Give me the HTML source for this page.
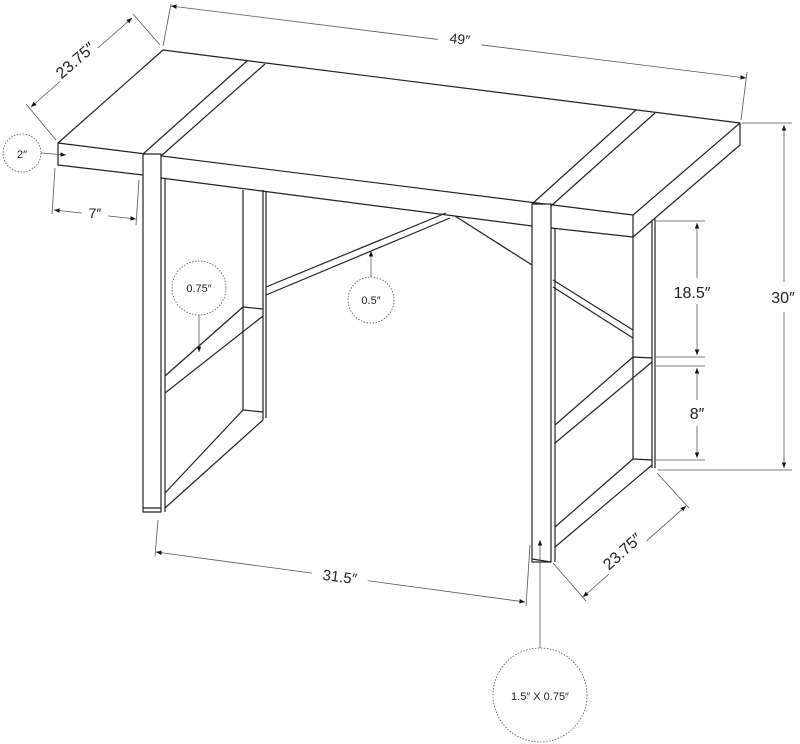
<!DOCTYPE html>
<html><head><meta charset="utf-8"><style>
html,body{margin:0;padding:0;background:#fff;width:800px;height:744px;overflow:hidden}
svg{display:block}
text{font-family:"Liberation Sans",sans-serif;fill:#222}
</style></head><body>
<svg width="800" height="744" viewBox="0 0 800 744" xmlns="http://www.w3.org/2000/svg">
<defs>
<marker id="a" viewBox="0 0 10 10" refX="10" refY="5" markerWidth="7" markerHeight="7" orient="auto-start-reverse"><path d="M0,1 L10,5 L0,9z" fill="#111"/></marker>
</defs>
<g fill="none" stroke="#222" stroke-width="1.2" stroke-linejoin="round">
<!-- tabletop -->
<polygon points="163,50 740,123 633,215 58,143" fill="#fff"/>
<polyline points="58,143 58,165 143,175"/>
<line x1="161" y1="178" x2="532" y2="226"/>
<line x1="551" y1="228" x2="633" y2="237"/>
<polyline points="633,215 633,237 740,145 740,123"/>
<!-- stripes -->
<line x1="143" y1="154" x2="247" y2="61"/>
<line x1="161" y1="156" x2="265" y2="64"/>
<line x1="532" y1="204" x2="636" y2="110"/>
<line x1="551" y1="206" x2="655" y2="113"/>
<!-- left front leg -->
<rect x="143" y="154" width="18" height="358" fill="#fff"/>
<line x1="143" y1="508" x2="161" y2="508"/>
<line x1="165" y1="178" x2="165" y2="512"/>
<!-- left back leg -->
<line x1="243" y1="190" x2="243" y2="410"/>
<line x1="263" y1="190" x2="263" y2="420"/>
<line x1="266" y1="191" x2="266" y2="418"/>
<!-- left rails -->
<polyline points="165,376 243,307 263,309"/>
<line x1="165" y1="393" x2="263" y2="316"/>
<polyline points="165,493 243,410 263,412"/>
<line x1="165" y1="508" x2="263" y2="420"/>
<!-- cross brace -->
<line x1="266" y1="287" x2="446" y2="213"/>
<line x1="266" y1="295" x2="450" y2="218"/>
<line x1="455" y1="216" x2="532" y2="265"/>
<line x1="553" y1="280" x2="633" y2="330"/>
<line x1="553" y1="287" x2="633" y2="338"/>
<!-- right front leg -->
<rect x="532" y="204" width="19" height="358" fill="#fff"/>
<line x1="532" y1="559" x2="551" y2="562"/>
<line x1="555" y1="228" x2="555" y2="562"/>
<!-- right back leg -->
<line x1="633" y1="237" x2="633" y2="459"/>
<line x1="652" y1="221" x2="652" y2="468"/>
<line x1="655" y1="219" x2="655" y2="468"/>
<!-- right rails -->
<polyline points="555,425 633,357 652,358"/>
<line x1="555" y1="443" x2="652" y2="362"/>
<polyline points="555,527 633,459 652,460"/>
<line x1="555" y1="547" x2="652" y2="465"/>
</g>
<!-- dimensions -->
<g fill="none" stroke="#555" stroke-width="0.8">
<line x1="163" y1="46" x2="171" y2="4"/>
<line x1="741" y1="120" x2="747" y2="72"/>
<line x1="171" y1="6" x2="746" y2="78" marker-start="url(#a)" marker-end="url(#a)"/>
<line x1="160" y1="45" x2="133" y2="14"/>
<line x1="56" y1="140" x2="26" y2="104"/>
<line x1="31" y1="107" x2="132" y2="18" marker-start="url(#a)" marker-end="url(#a)"/>
<circle cx="22" cy="153" r="19" stroke-dasharray="1.5,1.5"/>
<line x1="41" y1="153" x2="66" y2="155" marker-end="url(#a)"/>
<line x1="55" y1="168" x2="52" y2="214"/>
<line x1="139" y1="180" x2="136" y2="225"/>
<line x1="54" y1="210" x2="136" y2="219" marker-start="url(#a)" marker-end="url(#a)"/>
<circle cx="199" cy="288" r="27" stroke-dasharray="1.5,1.5"/>
<line x1="199" y1="315" x2="199" y2="352" marker-end="url(#a)"/>
<circle cx="371" cy="300" r="23" stroke-dasharray="1.5,1.5"/>
<line x1="371" y1="277" x2="371" y2="251" marker-end="url(#a)"/>
<line x1="656" y1="221" x2="705" y2="221"/>
<line x1="656" y1="357" x2="705" y2="357"/>
<line x1="656" y1="366" x2="705" y2="366"/>
<line x1="656" y1="460" x2="705" y2="460"/>
<line x1="742" y1="123" x2="792" y2="123"/>
<line x1="658" y1="470" x2="792" y2="470"/>
<line x1="697" y1="223" x2="697" y2="355" marker-start="url(#a)" marker-end="url(#a)"/>
<line x1="697" y1="368" x2="697" y2="458" marker-start="url(#a)" marker-end="url(#a)"/>
<line x1="784" y1="125" x2="784" y2="468" marker-start="url(#a)" marker-end="url(#a)"/>
<line x1="657" y1="473" x2="689" y2="508"/>
<line x1="553" y1="563" x2="586" y2="601"/>
<line x1="583" y1="597" x2="686" y2="506" marker-start="url(#a)" marker-end="url(#a)"/>
<line x1="158" y1="520" x2="155" y2="556"/>
<line x1="530" y1="545" x2="526" y2="606"/>
<line x1="156" y1="552" x2="525" y2="602" marker-start="url(#a)" marker-end="url(#a)"/>
<circle cx="540" cy="695" r="47" stroke-dasharray="1.5,1.5"/>
<line x1="540" y1="648" x2="540" y2="540" marker-end="url(#a)"/>
</g>
<!-- label backgrounds -->
<g fill="#fff" stroke="none">
<rect x="438" y="28" width="44" height="20" transform="rotate(7 460 38)"/>
<rect x="50" y="48" width="50" height="24" transform="rotate(-41 75 60)"/>
<rect x="82" y="203" width="26" height="18"/>
<rect x="664" y="278" width="56" height="26"/>
<rect x="682" y="400" width="30" height="26"/>
<rect x="766" y="282" width="34" height="30"/>
<rect x="597" y="538" width="50" height="26" transform="rotate(-42 622 551)"/>
<rect x="312" y="565" width="56" height="22" transform="rotate(7.5 340 576)"/>
</g>
<g font-size="14">
<text x="460" y="44" text-anchor="middle" transform="rotate(7 460 38)">49″</text>
<text x="75" y="66" text-anchor="middle" font-size="16" transform="rotate(-41 75 60)">23.75″</text>
<text x="22" y="158" text-anchor="middle" font-size="11">2″</text>
<text x="95" y="218" text-anchor="middle">7″</text>
<text x="199" y="292" text-anchor="middle" font-size="11">0.75″</text>
<text x="371" y="304" text-anchor="middle" font-size="11">0.5″</text>
<text x="692" y="298" text-anchor="middle" font-size="16">18.5″</text>
<text x="697" y="419" text-anchor="middle" font-size="16">8″</text>
<text x="783" y="303" text-anchor="middle" font-size="16">30″</text>
<text x="622" y="557" text-anchor="middle" font-size="16" transform="rotate(-42 622 551)">23.75″</text>
<text x="340" y="582" text-anchor="middle" font-size="15" transform="rotate(7.5 340 576)">31.5″</text>
<text x="540" y="700" text-anchor="middle" font-size="11">1.5″ X 0.75″</text>
</g>
</svg>
</body></html>
